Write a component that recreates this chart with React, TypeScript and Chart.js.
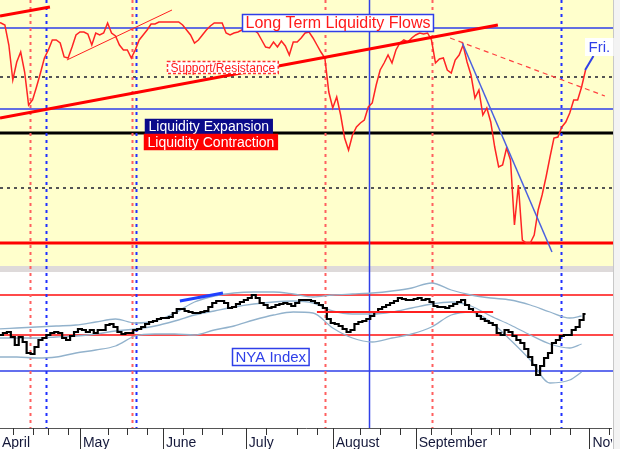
import React, { useEffect, useRef } from 'react';
import { Chart, registerables } from 'chart.js';

Chart.register(...registerables);

// ---- trading-day axis (day 0 = first trading day of April) ----
const monthStarts = [0, 21, 42, 63, 85, 106, 127, 150];
const monthLabels = ['April', 'May', 'June', 'July', 'August', 'September', '', 'Nov'];
const weekTicks = [4, 9, 13, 18, 28, 33, 38, 47, 52, 57, 68, 76, 81, 92, 97, 102, 110, 115, 120, 125, 127, 130, 135, 140, 145, 155];

// ---- Long Term Liquidity Flows (top panel, daily) ----
const liquidity = [
  221, 220, 218, 198, 163, 181, 191, 171, 138, 143,
  156, 170, 185, 193, 203, 203, 200, 186, 185, 196,
  208, 211, 211, 209, 198, 210, 208, 210, 220, 210,
  207, 198, 193, 193, 185, 193, 203, 208, 213, 219,
  219, 221, 221, 221, 221, 221, 221, 218, 213, 208,
  200, 203, 208, 213, 217, 220, 220, 220, 210, 208,
  210, 211, 213, 215, 215, 213, 210, 203, 196, 195,
  201, 196, 202, 197, 188, 201, 201, 205, 210, 211,
  205, 198, 191, 185, 151, 135, 146, 128, 105, 93,
  108, 116, 120, 123, 136, 140, 158, 173, 180, 188,
  180, 193, 200, 203, 201, 205, 208, 210, 209, 210,
  203, 180, 184, 185, 173, 170, 183, 188, 198, 181,
  168, 145, 153, 128, 135, 121, 96, 76, 78, 95,
  83, 18, 58, 3, 0, 0, 8, 33, 48, 66,
  86, 105, 106, 116, 121, 130, 143, 143, 156, 173,
];

// ---- NYA Index (bottom panel, daily close) ----
const nyaClose = [
  10600, 10600, 10620, 10630, 10580, 10500, 10580, 10530, 10420, 10410,
  10480, 10550, 10570, 10600, 10620, 10630, 10620, 10570, 10550, 10590,
  10630, 10660, 10650, 10630, 10650, 10620, 10650, 10650, 10700, 10710,
  10680, 10630, 10610, 10620, 10620, 10650, 10660, 10680, 10710, 10730,
  10740, 10760, 10770, 10770, 10780, 10820, 10860, 10860, 10840, 10830,
  10820, 10820, 10830, 10840, 10880, 10920, 10940, 10940, 10920, 10870,
  10880, 10910, 10930, 10950, 10970, 11000, 10970, 10920, 10900, 10870,
  10880, 10900, 10910, 10920, 10910, 10890, 10920, 10950, 10950, 10950,
  10940, 10920, 10900, 10870, 10760, 10720, 10710, 10690, 10660, 10630,
  10650, 10710, 10730, 10740, 10760, 10790, 10830, 10860, 10880, 10900,
  10920, 10940, 10970, 10960, 10950, 10950, 10960, 10970, 10950, 10960,
  10930, 10890, 10880, 10880, 10870, 10890, 10910, 10930, 10950, 10900,
  10860, 10830, 10790, 10760, 10740, 10720, 10700, 10620, 10600, 10650,
  10630, 10590, 10550, 10520, 10460, 10380, 10300, 10200, 10290, 10370,
  10420, 10520, 10550, 10590, 10600, 10600, 10650, 10680, 10750, 10810,
];

// ---- Bollinger-style bands (sampled days) ----
const bandDays = [0, 5, 10, 15, 20, 25, 30, 35, 40, 45, 50, 55, 60, 65, 70, 75, 80, 85, 90, 95, 100, 105, 110, 115, 120, 125, 130, 135, 140, 145, 148];
const bandUpper = [10660, 10670, 10680, 10690, 10700, 10730, 10760, 10720, 10740, 10820, 10930, 10990, 11020, 11030, 11030, 11010, 10980, 11000, 11010, 11020, 11040, 11070, 11120, 11050, 11000, 10970, 10950, 10900, 10830, 10770, 10790];
const bandMiddle = [10570, 10570, 10570, 10580, 10590, 10610, 10640, 10660, 10690, 10740, 10800, 10840, 10880, 10910, 10930, 10940, 10920, 10840, 10810, 10810, 10830, 10870, 10910, 10930, 10890, 10790, 10700, 10600, 10510, 10470, 10510];
const bandLower = [10380, 10380, 10370, 10380, 10420, 10450, 10490, 10590, 10610, 10610, 10600, 10650, 10690, 10750, 10800, 10830, 10820, 10670, 10570, 10530, 10570, 10610, 10680, 10800, 10830, 10730, 10550, 10350, 10120, 10150, 10230];

// ---- drawn trend lines [day, value] ----
const supportLine = [[0.76, 125], [126.8, 218]];
const earlyTrend = [[0.76, 227], [13.4, 236]];
const springTrend = [[17.7, 183], [44.3, 233]];
const resistanceDash = [[114.7, 205], [153.9, 147]];
const declineTrend = [[117.7, 201], [140.5, -9]];
const friPointer = [[148.9, 173], [151, 187]];
const nyaRange = [[81, 10830], [125.6, 10830]];
const nyaTopTrend = [[46.3, 10940], [57.2, 11020]];

// ---- reference levels ----
const topLevels = [215, 166, 134, 110, 55, 0];
const topLevelKinds = ['blue', 'dots', 'blue', 'black', 'dots', 'red'];
const bottomLevels = [11000, 10600, 10240];
const bottomLevelKinds = ['redThin', 'redThin', 'blue'];

// ---- vertical event markers (day) ----
const redMarkers = [8.3, 34.2, 83, 110.1];
const blueMarkers = [12.4, 35.2, 142.8];
const blueSolidMarkers = [94.2];

const FONT = '"Liberation Sans", Arial, sans-serif';

const levelStyle: Record<string, { color: string; width: number; dash: number[] }> = {
  blue: { color: '#2f3fe8', width: 1.5, dash: [] },
  dots: { color: '#555555', width: 2, dash: [3, 4] },
  black: { color: '#000000', width: 3, dash: [] },
  red: { color: '#ff0000', width: 3, dash: [] },
  redThin: { color: '#ff4a4a', width: 2, dash: [] },
};

const labels = [
  { text: 'Long Term Liquidity Flows', axis: 'yTop', x: 86.3, y: 220, size: 16, h: 18, color: '#ff1a1a', bg: '#ffffff', border: '#2f3fe8', dash: [] as number[] },
  { text: 'Support/Resistance', axis: 'yTop', x: 57.2, y: 175.5, size: 12, h: 13, color: '#ff1a1a', bg: '#ffffff', border: '#ff3030', dash: [3, 2] },
  { text: 'Liquidity Expansion', axis: 'yTop', x: 53.7, y: 116.5, size: 14, h: 15, color: '#ffffff', bg: '#0a0a8a', border: '#0a0a8a', dash: [] as number[] },
  { text: 'Liquidity Contraction', axis: 'yTop', x: 54.1, y: 101, size: 14, h: 16, color: '#ffffff', bg: '#ff0000', border: '#ff0000', dash: [] as number[] },
  { text: 'NYA Index', axis: 'yBot', x: 69.4, y: 10380, size: 15, h: 18, color: '#2f3fe8', bg: '#ffffff', border: '#2f3fe8', dash: [] as number[] },
  { text: 'Fri.', axis: 'yTop', x: 152.4, y: 196, size: 15, h: 18, color: '#2f3fe8', bg: '#ffffff', border: null as any, dash: [] as number[] },
];

const panelPlugin = {
  id: 'panels',
  beforeDraw(chart: any) {
    const { ctx, chartArea: ca, scales } = chart;
    const yT = scales.yTop;
    const yB = scales.yBot;
    ctx.save();
    ctx.fillStyle = '#f3f3f3';
    ctx.fillRect(0, 0, chart.width, chart.height);
    ctx.fillStyle = '#ffffff';
    ctx.fillRect(0, ca.bottom, ca.right, chart.height - ca.bottom);
    ctx.fillStyle = '#ffffcc';
    ctx.fillRect(ca.left, yT.top, ca.right - ca.left, yT.bottom - yT.top);
    ctx.fillStyle = '#ffffff';
    ctx.fillRect(ca.left, yB.top, ca.right - ca.left, yB.bottom - yB.top);
    ctx.fillStyle = '#dedada';
    ctx.fillRect(ca.left, yB.top, ca.right - ca.left, 6);
    ctx.strokeStyle = '#c8c8c8';
    ctx.lineWidth = 1;
    ctx.beginPath();
    ctx.moveTo(ca.right + 0.5, 0);
    ctx.lineTo(ca.right + 0.5, chart.height);
    ctx.stroke();
    ctx.restore();
  },
  beforeDatasetsDraw(chart: any) {
    const { ctx, chartArea: ca, scales } = chart;
    const xs = scales.x;
    ctx.save();
    ctx.beginPath();
    ctx.rect(ca.left, ca.top, ca.right - ca.left, ca.bottom - ca.top);
    ctx.clip();
    const hline = (scale: any, v: number, kind: string) => {
      const st = levelStyle[kind];
      const y = scale.getPixelForValue(v);
      ctx.beginPath();
      ctx.setLineDash(st.dash);
      ctx.strokeStyle = st.color;
      ctx.lineWidth = st.width;
      ctx.moveTo(ca.left, y);
      ctx.lineTo(ca.right, y);
      ctx.stroke();
    };
    topLevels.forEach((v, i) => hline(scales.yTop, v, topLevelKinds[i]));
    bottomLevels.forEach((v, i) => hline(scales.yBot, v, bottomLevelKinds[i]));
    const vline = (d: number, color: string, width: number, dash: number[]) => {
      const x = Math.round(xs.getPixelForValue(d)) + 0.5;
      ctx.beginPath();
      ctx.setLineDash(dash);
      ctx.strokeStyle = color;
      ctx.lineWidth = width;
      ctx.moveTo(x, ca.top);
      ctx.lineTo(x, ca.bottom);
      ctx.stroke();
    };
    redMarkers.forEach((d) => vline(d, '#ff6060', 2, [3, 4]));
    blueMarkers.forEach((d) => vline(d, '#2030ff', 2, [3, 4]));
    blueSolidMarkers.forEach((d) => vline(d, '#3040e8', 1.5, []));
    ctx.restore();
  },
  afterDatasetsDraw(chart: any) {
    const { ctx, scales } = chart;
    ctx.save();
    labels.forEach((l) => {
      ctx.font = `${l.size}px ${FONT}`;
      const w = ctx.measureText(l.text).width + 7;
      const cx = scales.x.getPixelForValue(l.x);
      const cy = scales[l.axis].getPixelForValue(l.y);
      const x0 = Math.round(cx - w / 2);
      const y0 = Math.round(cy - l.h / 2);
      ctx.fillStyle = l.bg;
      ctx.fillRect(x0, y0, w, l.h);
      if (l.border) {
        ctx.setLineDash(l.dash);
        ctx.strokeStyle = l.border;
        ctx.lineWidth = 1.5;
        ctx.strokeRect(x0 + 0.5, y0 + 0.5, w - 1, l.h - 1);
      }
      ctx.setLineDash([]);
      ctx.fillStyle = l.color;
      ctx.textAlign = 'center';
      ctx.textBaseline = 'middle';
      ctx.fillText(l.text, x0 + w / 2, y0 + l.h / 2 + 1);
    });
    ctx.restore();
  },
  afterDraw(chart: any) {
    const { ctx, chartArea: ca, scales } = chart;
    const xs = scales.x;
    ctx.save();
    ctx.beginPath();
    ctx.rect(0, 0, ca.right - 1, chart.height);
    ctx.clip();
    ctx.strokeStyle = '#555555';
    ctx.lineWidth = 1;
    ctx.beginPath();
    ctx.moveTo(ca.left, ca.bottom + 0.5);
    ctx.lineTo(ca.right, ca.bottom + 0.5);
    ctx.stroke();
    ctx.strokeStyle = '#333333';
    weekTicks.forEach((d) => {
      const x = Math.round(xs.getPixelForValue(d)) + 0.5;
      ctx.beginPath();
      ctx.moveTo(x, ca.bottom);
      ctx.lineTo(x, ca.bottom + 7);
      ctx.stroke();
    });
    ctx.font = `14px ${FONT}`;
    ctx.fillStyle = '#14183a';
    ctx.textAlign = 'left';
    ctx.textBaseline = 'alphabetic';
    monthStarts.forEach((d, i) => {
      const px = xs.getPixelForValue(d);
      if (monthLabels[i]) {
        const x = Math.round(px) + 0.5;
        ctx.beginPath();
        ctx.moveTo(x, ca.bottom);
        ctx.lineTo(x, chart.height);
        ctx.stroke();
        ctx.fillText(monthLabels[i], Math.max(px + 3, ca.left + 2), chart.height - 2);
      }
    });
    ctx.restore();
  },
};

const seg = (p: number[][]) => p.map(([x, y]) => ({ x, y }));

export default function App() {
  const ref = useRef<HTMLCanvasElement>(null);
  useEffect(() => {
    document.body.style.margin = '0';
    const line = (data: any[], yAxisID: string, color: string, width: number, extra: any = {}) => ({
      data,
      yAxisID,
      borderColor: color,
      borderWidth: width,
      pointRadius: 0,
      fill: false,
      tension: 0,
      ...extra,
    });
    const daily = (arr: number[]) => arr.map((y, i) => ({ x: i, y }));
    const sampled = (arr: number[]) => arr.map((y, i) => ({ x: bandDays[i], y }));
    const chart = new Chart(ref.current as HTMLCanvasElement, {
      type: 'line',
      data: {
        datasets: [
          line(seg(friPointer), 'yTop', '#2f3fe8', 2),
          line(seg(supportLine), 'yTop', '#ff0000', 3),
          line(seg(earlyTrend), 'yTop', '#ff0000', 3),
          line(seg(springTrend), 'yTop', '#ff2020', 1),
          line(seg(resistanceDash), 'yTop', '#ff4040', 1.2, { borderDash: [5, 4] }),
          line(seg(declineTrend), 'yTop', '#4a60e0', 1.5),
          line(daily(liquidity), 'yTop', '#ff2424', 1.5),
          line(seg(nyaTopTrend), 'yBot', '#2040ff', 3),
          line(seg(nyaRange), 'yBot', '#ff2020', 2),
          line(daily(nyaClose), 'yBot', '#000000', 2.2, { stepped: 'middle' }),
          line(sampled(bandUpper), 'yBot', '#92b2cc', 1.3, { cubicInterpolationMode: 'monotone' }),
          line(sampled(bandMiddle), 'yBot', '#92b2cc', 1.3, { cubicInterpolationMode: 'monotone' }),
          line(sampled(bandLower), 'yBot', '#92b2cc', 1.3, { cubicInterpolationMode: 'monotone' }),
        ] as any,
      },
      options: {
        animation: false,
        responsive: false,
        devicePixelRatio: 1,
        events: [],
        layout: { padding: { left: 0, top: 0, right: 7, bottom: 21 } },
        plugins: { legend: { display: false }, tooltip: { enabled: false } },
        scales: {
          x: { type: 'linear', min: 0.76, max: 155.95, display: false },
          yBot: {
            type: 'linear', position: 'left', stack: 'panels', stackWeight: 162,
            min: 9670, max: 11290, display: true,
            ticks: { display: false }, grid: { display: false, drawTicks: false }, border: { display: false },
          },
          yTop: {
            type: 'linear', position: 'left', stack: 'panels', stackWeight: 266,
            min: -23, max: 243, display: true,
            ticks: { display: false }, grid: { display: false, drawTicks: false }, border: { display: false },
          },
        },
      } as any,
      plugins: [panelPlugin],
    });
    return () => chart.destroy();
  }, []);
  return (
    <div style={{ width: 620, height: 449 }}>
      <canvas ref={ref} width={620} height={449} style={{ display: 'block' }} />
    </div>
  );
}
